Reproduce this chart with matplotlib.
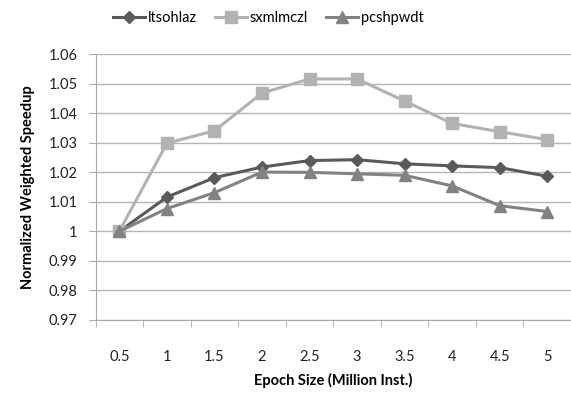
import matplotlib
matplotlib.use("Agg")
import matplotlib.pyplot as plt
from matplotlib.ticker import FixedLocator

plt.rcParams['font.family'] = ['Lato', 'DejaVu Sans']

epoch = ['0.5', '1', '1.5', '2', '2.5', '3', '3.5', '4', '4.5', '5']
ltsohlaz = [1.0, 1.0116, 1.0182, 1.0218, 1.0240, 1.0243, 1.0229, 1.0222, 1.0216, 1.0187]
sxmlmczl = [1.0, 1.0299, 1.0341, 1.0469, 1.0517, 1.0517, 1.0442, 1.0366, 1.0338, 1.0311]
pcshpwdt = [1.0, 1.0077, 1.0131, 1.0201, 1.0200, 1.0195, 1.0190, 1.0154, 1.0087, 1.0067]

fig = plt.figure(figsize=(5.71, 3.94), dpi=100)
ax = fig.add_axes([0.1674, 0.1886, 0.8326, 0.6731])

x = list(range(len(epoch)))
ax.plot(x, ltsohlaz, color='#5a5a5a', lw=2.2, marker='D', ms=6, label='ltsohlaz')
ax.plot(x, sxmlmczl, color='#b2b2b2', lw=2.2, marker='s', ms=8, label='sxmlmczl')
ax.plot(x, pcshpwdt, color='#828282', lw=2.2, marker='^', ms=8, label='pcshpwdt')

ax.set_xlim(-0.5, len(epoch) - 0.5)
ax.set_ylim(0.97, 1.06)
ax.set_yticks([0.97 + 0.01 * i for i in range(10)])
ax.set_yticklabels(['0.97', '0.98', '0.99', '1', '1.01', '1.02', '1.03', '1.04', '1.05', '1.06'])
ax.set_xticks(x)
ax.set_xticklabels(epoch)
ax.xaxis.set_minor_locator(FixedLocator([i - 0.5 for i in range(len(epoch) + 1)]))
ax.tick_params(axis='x', which='major', length=0, pad=22, labelsize=10.5, colors='#222222')
ax.tick_params(axis='x', which='minor', length=5, color='#aaaaaa')
ax.tick_params(axis='y', length=5, color='#aaaaaa', labelsize=10.5, labelcolor='#222222', pad=8)

ax.grid(axis='y', color='#b5b5b5', lw=1)
ax.set_axisbelow(True)
for s in ['top', 'right']:
    ax.spines[s].set_visible(False)
ax.spines['left'].set_color('#aaaaaa')
ax.spines['bottom'].set_color('#aaaaaa')

ax.set_xlabel('Epoch Size (Million Inst.)', fontsize=10.5, fontweight='bold', labelpad=6)
ax.set_ylabel('Normalized Weighted Speedup', fontsize=10.5, fontweight='bold', labelpad=10)

fig.legend(loc='upper center', bbox_to_anchor=(0.47, 1.005), ncol=3, frameon=False,
           fontsize=10.5, handlelength=2.2, handletextpad=0.2, columnspacing=1.2)

fig.savefig('out.png', dpi=100)
